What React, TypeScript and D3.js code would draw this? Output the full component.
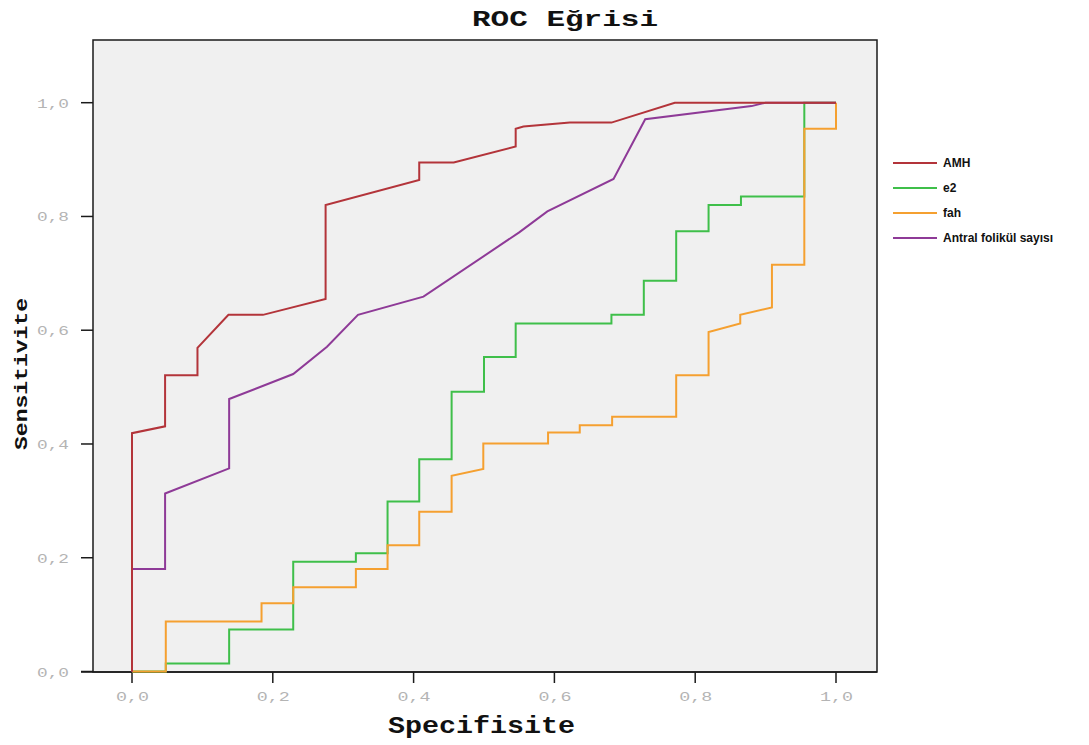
import React from "react";
import * as d3 from "d3";

// ROC curve points: [1 - specificity, sensitivity]
const amh: [number, number][] = [
  [0, 0], [0, 0.419], [0.047, 0.431], [0.047, 0.521], [0.093, 0.521], [0.093, 0.569],
  [0.137, 0.627], [0.186, 0.627], [0.275, 0.655], [0.275, 0.82], [0.408, 0.864],
  [0.408, 0.895], [0.457, 0.895], [0.545, 0.923], [0.545, 0.954], [0.556, 0.958],
  [0.622, 0.965], [0.681, 0.965], [0.771, 1.0], [1, 1],
];
const e2: [number, number][] = [
  [0, 0], [0.048, 0], [0.048, 0.014], [0.138, 0.014], [0.138, 0.074], [0.229, 0.074],
  [0.229, 0.193], [0.318, 0.193], [0.318, 0.208], [0.363, 0.208], [0.363, 0.299],
  [0.408, 0.299], [0.408, 0.373], [0.454, 0.373], [0.454, 0.492], [0.5, 0.492],
  [0.5, 0.553], [0.545, 0.553], [0.545, 0.612], [0.681, 0.612], [0.681, 0.627],
  [0.727, 0.627], [0.727, 0.687], [0.773, 0.687], [0.773, 0.774], [0.819, 0.774],
  [0.819, 0.82], [0.865, 0.82], [0.865, 0.835], [0.955, 0.835], [0.955, 1.0], [1, 1],
];
const fah: [number, number][] = [
  [0, 0], [0.048, 0], [0.048, 0.088], [0.184, 0.088], [0.184, 0.12], [0.229, 0.12],
  [0.229, 0.148], [0.318, 0.148], [0.318, 0.18], [0.363, 0.18], [0.363, 0.222],
  [0.408, 0.222], [0.408, 0.281], [0.454, 0.281], [0.454, 0.344], [0.499, 0.356],
  [0.499, 0.401], [0.591, 0.401], [0.591, 0.42], [0.636, 0.42], [0.636, 0.433],
  [0.682, 0.433], [0.682, 0.448], [0.773, 0.448], [0.773, 0.521], [0.819, 0.521],
  [0.819, 0.597], [0.864, 0.612], [0.864, 0.627], [0.909, 0.64], [0.909, 0.715],
  [0.955, 0.715], [0.955, 0.954], [1, 0.954], [1, 1],
];
const antral: [number, number][] = [
  [0, 0], [0, 0.18], [0.047, 0.18], [0.047, 0.313], [0.138, 0.357], [0.138, 0.479],
  [0.229, 0.523], [0.277, 0.571], [0.321, 0.627], [0.414, 0.659], [0.55, 0.772],
  [0.59, 0.809], [0.684, 0.866], [0.729, 0.971], [0.88, 0.994], [0.9, 1.0], [1, 1],
];

const seriesNames = ["AMH", "e2", "fah", "Antral folikül sayısı"];
const seriesData = [amh, e2, fah, antral];
const seriesColors = ["#b3343a", "#3fbf4a", "#f5a030", "#8e3a97"];
// draw order: purple under red at the top, orange over green at the bottom
const drawOrder = [1, 2, 3, 0];

const ticks = [0, 0.2, 0.4, 0.6, 0.8, 1.0];
const tickLabels = ["0,0", "0,2", "0,4", "0,6", "0,8", "1,0"];

const W = 1089;
const H = 745;
const frame = { left: 93, right: 877, top: 40, bottom: 672 };

const App = () => {
  const x = d3.scaleLinear().domain([0, 1]).range([132, 836]);
  const y = d3.scaleLinear().domain([0, 1]).range([671.5, 102.7]);
  const line = d3
    .line<[number, number]>()
    .x(d => x(d[0]))
    .y(d => y(d[1]));

  return (
    <svg width={W} height={H} style={{ position: "absolute", left: 0, top: 0, background: "#fff" }}>
      <rect
        x={frame.left}
        y={frame.top}
        width={frame.right - frame.left}
        height={frame.bottom - frame.top}
        fill="#f0f0f0"
        stroke="#1a1a1a"
        strokeWidth={1.5}
      />
      {/* axis lines extending past the frame */}
      <line x1={81} x2={frame.right} y1={frame.bottom} y2={frame.bottom} stroke="#1a1a1a" strokeWidth={1.5} />

      {ticks.map((t, i) => (
        <g key={"x" + i}>
          <line x1={x(t)} x2={x(t)} y1={frame.bottom} y2={683} stroke="#1a1a1a" strokeWidth={1.5} />
          <text
            x={x(t) - 16}
            y={701}
            fontFamily="Liberation Mono, monospace"
            fontSize={13}
            fill="#b4b4b4"
            textLength={33}
            lengthAdjust="spacingAndGlyphs"
          >
            {tickLabels[i]}
          </text>
        </g>
      ))}
      {ticks.map((t, i) => (
        <g key={"y" + i}>
          <line x1={81} x2={frame.left} y1={y(t)} y2={y(t)} stroke="#1a1a1a" strokeWidth={1.5} />
          <text
            x={37}
            y={y(t) + 5}
            fontFamily="Liberation Mono, monospace"
            fontSize={13}
            fill="#b4b4b4"
            textLength={32}
            lengthAdjust="spacingAndGlyphs"
          >
            {tickLabels[i]}
          </text>
        </g>
      ))}

      {drawOrder.map(i => (
        <path key={i} d={line(seriesData[i]) || ""} fill="none" stroke={seriesColors[i]} strokeWidth={2} />
      ))}

      <text
        x={472}
        y={26}
        fontFamily="Liberation Mono, monospace"
        fontWeight="bold"
        fontSize={22}
        fill="#111"
        textLength={186}
        lengthAdjust="spacingAndGlyphs"
      >
        ROC Eğrisi
      </text>
      <text
        x={388}
        y={733}
        fontFamily="Liberation Mono, monospace"
        fontWeight="bold"
        fontSize={24}
        fill="#111"
        textLength={187}
        lengthAdjust="spacingAndGlyphs"
      >
        Specifisite
      </text>
      <text
        transform="translate(27 450) rotate(-90)"
        fontFamily="Liberation Mono, monospace"
        fontWeight="bold"
        fontSize={19}
        fill="#111"
        textLength={152}
        lengthAdjust="spacingAndGlyphs"
      >
        Sensitivite
      </text>

      {seriesNames.map((name, i) => (
        <g key={name} transform={`translate(893 ${163 + i * 25})`}>
          <line x1={0} x2={44} y1={0} y2={0} stroke={seriesColors[i]} strokeWidth={2} />
          <text x={50} y={4} fontFamily="Liberation Sans, Arial, sans-serif" fontWeight="bold" fontSize={12} fill="#111">
            {name}
          </text>
        </g>
      ))}
    </svg>
  );
};

export default App;
